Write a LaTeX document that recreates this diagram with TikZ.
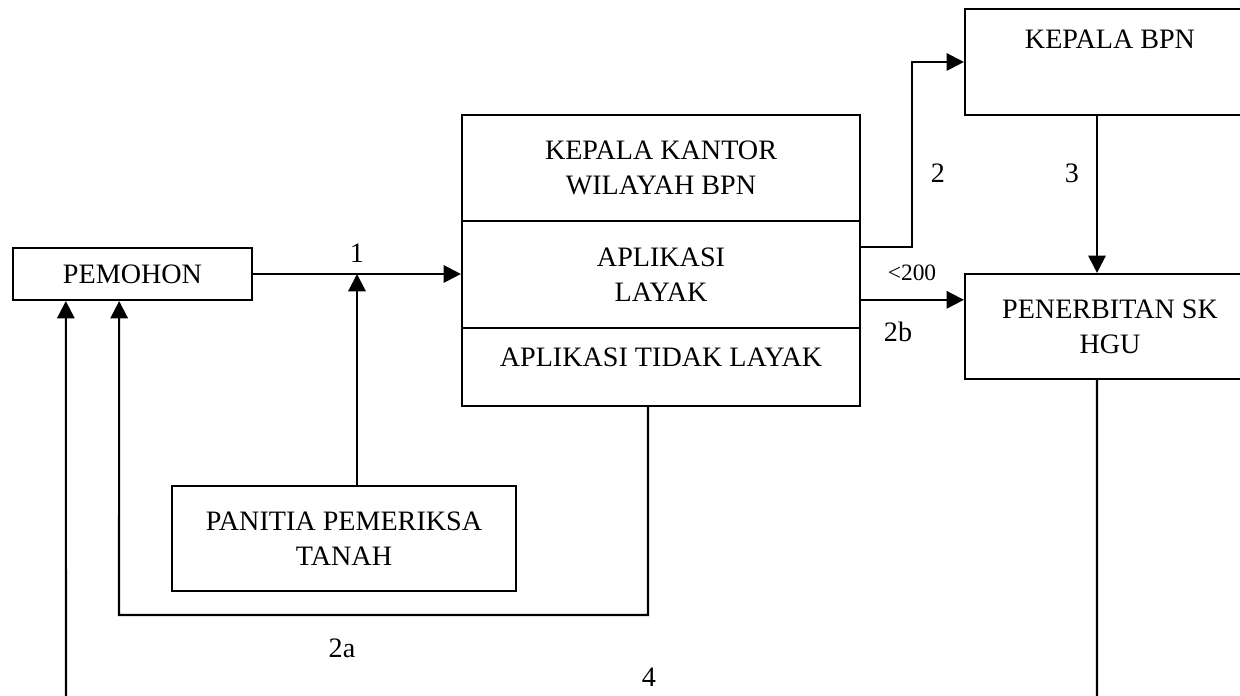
\documentclass[tikz,border=0pt]{standalone}
\usepackage{fontspec}
\setmainfont{Liberation Serif}
\usepackage{tikz}
\usetikzlibrary{arrows.meta,positioning,calc}

\begin{document}
\begin{tikzpicture}[
  x=0.015cm, y=-0.015cm,
  font=\fontsize{12}{15}\selectfont,
  box/.style={
    rectangle, draw=black, line width=0.9pt,
    inner sep=0pt, align=center
  },
  arr/.style={-{Triangle[length=0.26cm,width=0.26cm]}, line width=0.9pt},
  lin/.style={line width=0.9pt},
  lbl/.style={inner sep=0pt}
]
\useasboundingbox (0,0) rectangle (1240,696);
\clip (0,0) rectangle (1240,696);

\node[box, minimum width=3.585cm, minimum height=0.78cm] (pemohon) at (132.5,274) {PEMOHON};
\node[box, minimum width=5.97cm, minimum height=1.59cm] (kakanwil) at (661,168) {KEPALA KANTOR\\WILAYAH BPN};
\node[box, minimum width=5.97cm, minimum height=1.605cm] (layak) at (661,274.5) {APLIKASI\\LAYAK};
\node[box, minimum width=5.97cm, minimum height=1.17cm, text depth=0.3cm] (tidak) at (661,367) {APLIKASI TIDAK LAYAK};
\node[box, minimum width=5.16cm, minimum height=1.575cm] (panitia) at (344,538.5) {PANITIA PEMERIKSA\\TANAH};
\node[box, minimum width=4.35cm, minimum height=1.59cm, text depth=0.69cm] (kbpn) at (1110,62) {KEPALA BPN};
\node[box, minimum width=4.35cm, minimum height=1.575cm] (sk) at (1110,326.5) {PENERBITAN SK\\HGU};

\coordinate (join1) at (357,274);
\coordinate (ret2a) at (119,615);
\coordinate (end4l) at (66,700);
\coordinate (end4r) at (1097,700);

% alur permohonan
\draw[arr] (pemohon.east) -- (pemohon.east -| layak.west);
\draw[arr] (panitia.north -| join1) -- (join1);
\draw[arr] ([yshift=0.41cm]layak.east) -| ([xshift=-0.78cm]kbpn.west) -- (kbpn.west);
\draw[arr] ([yshift=-0.38cm]layak.east) -- ([yshift=-0.38cm]layak.east -| sk.west);
\draw[arr] ([xshift=-0.195cm]kbpn.south) -- ([xshift=-0.195cm]sk.north);
\draw[arr] ([xshift=-0.195cm]tidak.south) |- (ret2a) -- ([xshift=-0.2cm]pemohon.south);
\draw[lin] ([xshift=-0.195cm]sk.south) -- (end4r);
\draw[arr] (end4l) -- ([xshift=-1.0cm]pemohon.south);

\node[lbl] (n1) at (357,253) {1};
\node[lbl] (n2) at (938,173) {2};
\node[lbl] (n3) at (1072,173) {3};
\node[lbl, font=\fontsize{10}{12}\selectfont] (n200) at (912,273) {<200};
\node[lbl] (n2b) at (898,332) {2b};
\node[lbl] (n2a) at (342,648) {2a};
\node[lbl] (n4) at (649,677) {4};
\end{tikzpicture}
\end{document}
